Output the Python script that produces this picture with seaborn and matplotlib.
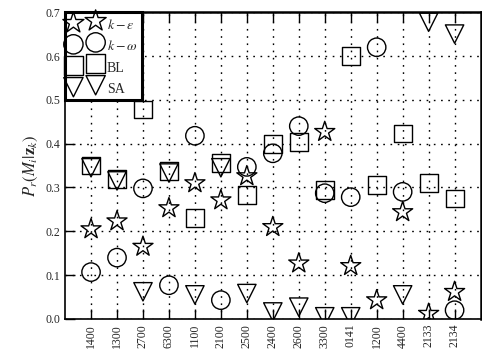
import numpy as np
import pandas as pd
import seaborn as sns
import matplotlib.pyplot as plt

# case labels on the x axis
cases = ['1400', '1300', '2700', '6300', '1100', '2100', '2500', '2400',
         '2600', '3300', '0141', '1200', '4400', '2133', '2134']

# model probabilities
k_eps = [0.205, 0.223, 0.165, 0.253, 0.31, 0.271, 0.326, 0.21,
         0.127, 0.427, 0.121, 0.043, 0.244, 0.012, 0.062]
k_omega = [0.107, 0.14, 0.298, 0.077, 0.418, 0.043, 0.347, 0.378,
           0.44, 0.287, 0.278, 0.62, 0.29, np.nan, 0.02]
bl = [0.35, 0.319, 0.478, 0.338, 0.23, 0.355, 0.283, 0.40,
      0.404, 0.294, 0.60, 0.305, 0.423, 0.31, 0.275]
sa = [0.345, 0.315, 0.062, 0.333, 0.055, 0.345, 0.058, 0.016,
      0.027, 0.005, 0.005, np.nan, 0.055, 0.677, 0.65]

models = [r'$k-\epsilon$', r'$k-\omega$', 'BL', 'SA']
series = [k_eps, k_omega, bl, sa]
markers = ['*', 'o', 's', 'v']
sizes = [230, 175, 165, 175]

sns.set_style('white')
plt.rcParams['font.family'] = ['Liberation Serif', 'DejaVu Serif']
plt.rcParams['mathtext.fontset'] = 'stix'

fig = plt.figure(figsize=(4.82, 3.58), dpi=100)
ax = fig.add_axes([0.135, 0.109, 0.862, 0.857])

for name, vals, m, s in zip(models, series, markers, sizes):
    df = pd.DataFrame({'case': cases, 'p': vals})
    sns.scatterplot(data=df, x='case', y='p', marker=m, s=s, ax=ax,
                    facecolors='none', edgecolor='black', linewidth=1.0,
                    label=name, zorder=3)

ax.set_xlim(-1, len(cases))
ax.set_ylim(0, 0.7)
ax.set_yticks(np.arange(0, 0.71, 0.1))
ax.set_yticklabels([f'{v:.1f}' for v in np.arange(0, 0.71, 0.1)])
ax.set_xlabel('')
ax.set_ylabel(r'$P_r(M_i|\mathbf{z}_k)$', fontsize=12)
ax.tick_params(axis='x', labelrotation=90, labelsize=8.5, direction='in',
               length=7, top=True, bottom=True, width=1, color='black')
ax.tick_params(axis='y', labelsize=8.5, direction='in', length=7,
               left=True, width=1, color='black')
ax.grid(True, color='black', linestyle=(0, (1.2, 4)), linewidth=1)

for side in ['left', 'bottom']:
    ax.spines[side].set_linewidth(1.2)
    ax.spines[side].set_color('black')
for side in ['top', 'right']:
    ax.spines[side].set_linewidth(1.8)
    ax.spines[side].set_color('black')

leg = ax.legend(loc='upper left', scatterpoints=2, fontsize=10,
                frameon=True, fancybox=False, borderaxespad=0,
                handlelength=2.2, handleheight=1.35, handletextpad=0.5,
                borderpad=0.3, labelspacing=0.42, markerscale=1.05)
leg.get_frame().set_edgecolor('black')
leg.get_frame().set_linewidth(2.2)
leg.get_frame().set_alpha(1)

fig.savefig('out.png', dpi=100)
